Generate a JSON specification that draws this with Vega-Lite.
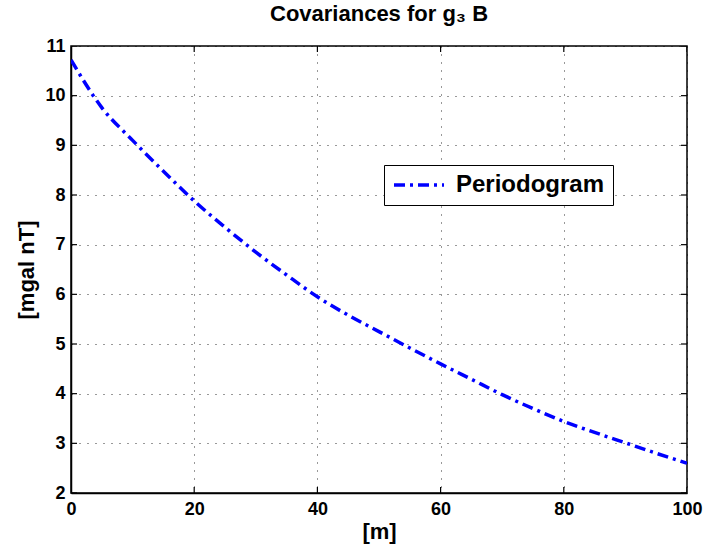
{
  "$schema": "https://vega.github.io/schema/vega-lite/v6.json",
  "width": 616,
  "height": 447,
  "autosize": {"type": "none"},
  "padding": {"left": 71, "top": 46, "right": 18, "bottom": 63},
  "background": "white",
  "title": {
    "text": "Covariances for g₃ B",
    "font": "Liberation Sans",
    "fontSize": 22,
    "fontWeight": "bold",
    "color": "black",
    "offset": 11,
    "anchor": "middle"
  },
  "config": {
    "view": {"stroke": "black", "strokeWidth": 1.5},
    "axis": {
      "labelFont": "Liberation Sans",
      "labelFontSize": 18,
      "labelFontWeight": "bold",
      "labelColor": "black",
      "labelFlush": false,
      "labelOverlap": false,
      "titleFont": "Liberation Sans",
      "titleFontSize": 22,
      "titleFontWeight": "bold",
      "titleColor": "black",
      "domainColor": "black",
      "domainWidth": 1.5,
      "ticks": false,
      "gridColor": "black",
      "gridOpacity": 0.8,
      "gridDash": [1, 7],
      "gridWidth": 1
    }
  },
  "datasets": {
    "curve": [
      {"x": 0, "y": 10.72, "s": "Periodogram"},
      {"x": 5, "y": 9.76, "s": "Periodogram"},
      {"x": 10, "y": 9.1, "s": "Periodogram"},
      {"x": 15, "y": 8.48, "s": "Periodogram"},
      {"x": 20, "y": 7.88, "s": "Periodogram"},
      {"x": 25, "y": 7.35, "s": "Periodogram"},
      {"x": 30, "y": 6.85, "s": "Periodogram"},
      {"x": 35, "y": 6.39, "s": "Periodogram"},
      {"x": 40, "y": 5.95, "s": "Periodogram"},
      {"x": 45, "y": 5.58, "s": "Periodogram"},
      {"x": 50, "y": 5.25, "s": "Periodogram"},
      {"x": 55, "y": 4.92, "s": "Periodogram"},
      {"x": 60, "y": 4.6, "s": "Periodogram"},
      {"x": 65, "y": 4.29, "s": "Periodogram"},
      {"x": 70, "y": 3.98, "s": "Periodogram"},
      {"x": 75, "y": 3.7, "s": "Periodogram"},
      {"x": 80, "y": 3.44, "s": "Periodogram"},
      {"x": 85, "y": 3.22, "s": "Periodogram"},
      {"x": 90, "y": 3.01, "s": "Periodogram"},
      {"x": 95, "y": 2.8, "s": "Periodogram"},
      {"x": 100, "y": 2.6, "s": "Periodogram"}
    ],
    "xticks": [
      {"x": 0}, {"x": 20}, {"x": 40}, {"x": 60}, {"x": 80}, {"x": 100}
    ],
    "yticks": [
      {"y": 2}, {"y": 3}, {"y": 4}, {"y": 5}, {"y": 6}, {"y": 7}, {"y": 8}, {"y": 9}, {"y": 10}, {"y": 11}
    ]
  },
  "layer": [
    {
      "data": {"name": "curve"},
      "mark": {"type": "line", "strokeWidth": 3.5, "strokeDash": [11, 5, 3, 5], "interpolate": "monotone", "clip": true},
      "encoding": {
        "x": {
          "field": "x", "type": "quantitative",
          "scale": {"domain": [0, 100], "nice": false},
          "axis": {"title": "[m]", "values": [0, 20, 40, 60, 80, 100], "labelPadding": 7, "titlePadding": 3, "grid": true}
        },
        "y": {
          "field": "y", "type": "quantitative",
          "scale": {"domain": [2, 11], "nice": false, "zero": false},
          "axis": {"title": "[mgal nT]", "values": [2, 3, 4, 5, 6, 7, 8, 9, 10, 11], "labelPadding": 6, "titlePadding": 6, "grid": true}
        },
        "color": {
          "field": "s", "type": "nominal",
          "scale": {"range": ["#0000ff"]},
          "legend": {
            "title": null,
            "orient": "none",
            "legendX": 313,
            "legendY": 119,
            "fillColor": "white",
            "strokeColor": "black",
            "padding": 8,
            "clipHeight": 24,
            "symbolType": "stroke",
            "symbolStrokeWidth": 3.5,
            "symbolDash": [11, 5, 3, 5],
            "symbolSize": 2500,
            "labelOffset": 10,
            "labelFont": "Liberation Sans",
            "labelFontSize": 24,
            "labelFontWeight": "bold",
            "labelColor": "black",
            "labelLimit": 300
          }
        }
      }
    },
    {
      "data": {"name": "xticks"},
      "mark": {"type": "tick", "orient": "vertical", "size": 12, "thickness": 1.2, "color": "black", "opacity": 1, "clip": true},
      "encoding": {"x": {"field": "x", "type": "quantitative"}, "y": {"datum": 2}}
    },
    {
      "data": {"name": "xticks"},
      "mark": {"type": "tick", "orient": "vertical", "size": 12, "thickness": 1.2, "color": "black", "opacity": 1, "clip": true},
      "encoding": {"x": {"field": "x", "type": "quantitative"}, "y": {"datum": 11}}
    },
    {
      "data": {"name": "yticks"},
      "mark": {"type": "tick", "orient": "horizontal", "size": 12, "thickness": 1.2, "color": "black", "opacity": 1, "clip": true},
      "encoding": {"y": {"field": "y", "type": "quantitative"}, "x": {"datum": 0}}
    },
    {
      "data": {"name": "yticks"},
      "mark": {"type": "tick", "orient": "horizontal", "size": 12, "thickness": 1.2, "color": "black", "opacity": 1, "clip": true},
      "encoding": {"y": {"field": "y", "type": "quantitative"}, "x": {"datum": 100}}
    }
  ]
}
